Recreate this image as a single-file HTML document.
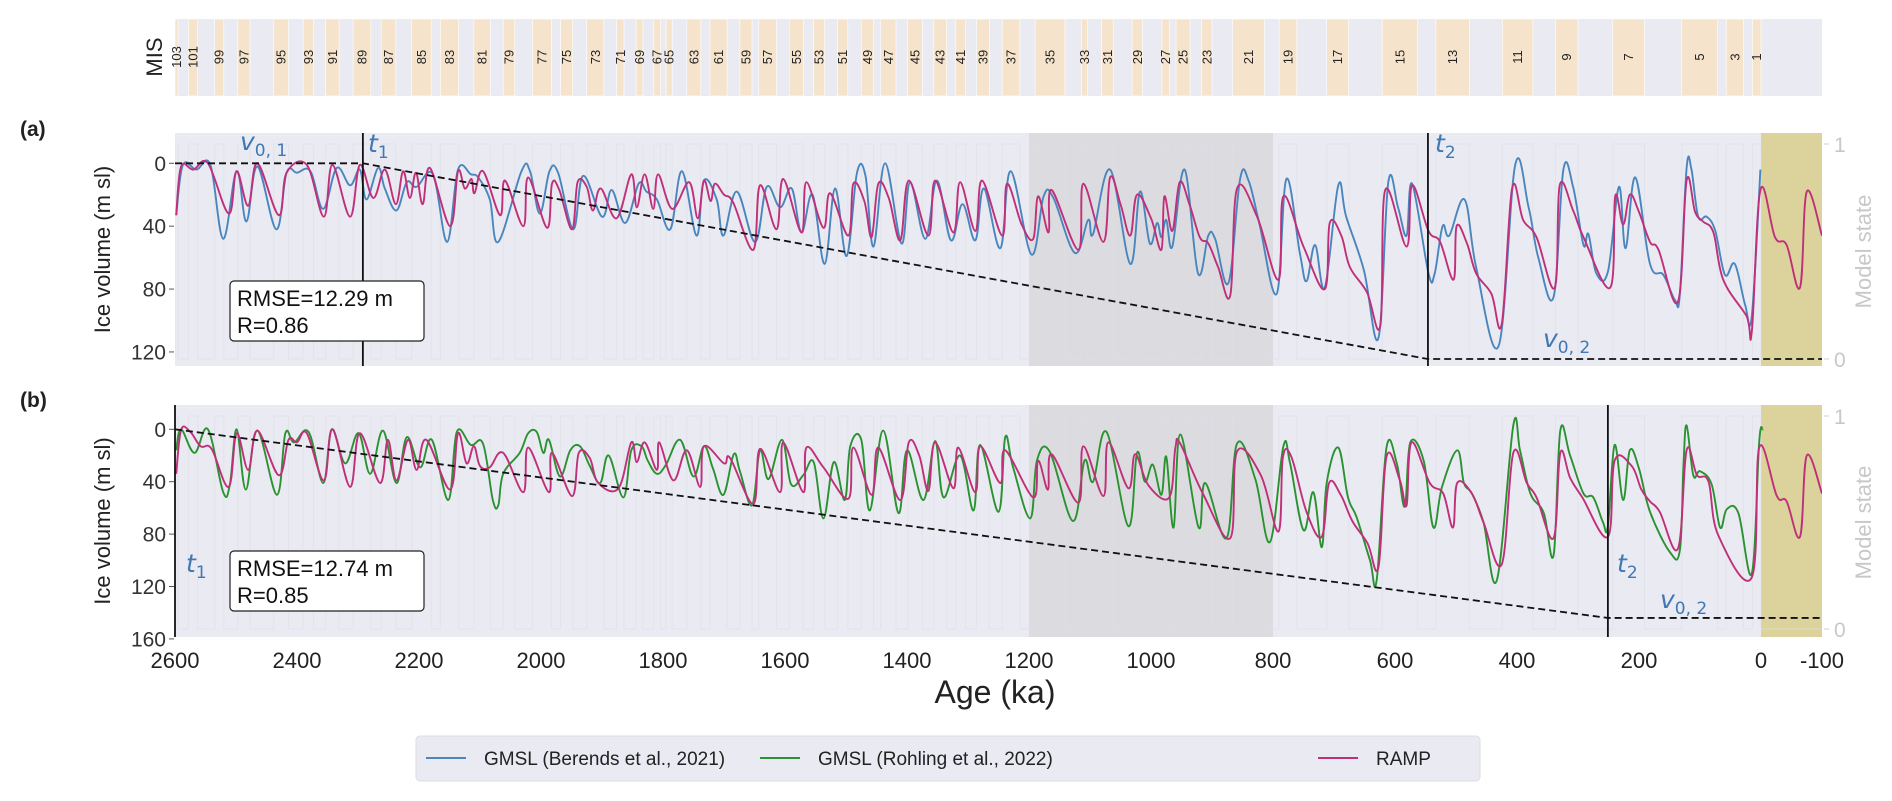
<!DOCTYPE html>
<html><head><meta charset="utf-8">
<style>
html,body{margin:0;padding:0;background:#fff;}
svg{display:block;font-family:"Liberation Sans",sans-serif;}
</style></head>
<body>
<svg id="chart" width="1892" height="801" viewBox="0 0 1892 801" xmlns="http://www.w3.org/2000/svg"></svg>
<script>
// ---------- DATA ----------
const misStages=[1,2,3,4,5,6,7,8,9,10,11,12,13,14,15,16,17,18,19,20,21,22,23,24,25,26,27,28,29,30,31,32,33,34,35,36,37,38,39,40,41,42,43,44,45,46,47,48,49,50,51,52,53,54,55,56,57,58,59,60,61,62,63,64,65,66,67,68,69,70,71,72,73,74,75,76,77,78,79,80,81,82,83,84,85,86,87,88,89,90,91,92,93,94,95,96,97,98,99,100,101,102,103];
const misBounds=[0,14,29,57,71,130,191,243,300,337,374,424,478,533,563,621,676,712,761,790,814,866,900,917,936,959,970,982,1014,1031,1062,1081,1104,1114,1141,1190,1215,1244,1265,1286,1304,1320,1335,1356,1375,1399,1418,1443,1455,1475,1497,1514,1535,1553,1570,1593,1614,1643,1654,1674,1695,1723,1738,1761,1785,1795,1804,1815,1833,1844,1864,1876,1897,1925,1948,1968,1983,2014,2043,2062,2083,2110,2135,2165,2180,2212,2238,2262,2279,2308,2331,2353,2373,2390,2414,2438,2477,2497,2520,2535,2563,2578,2595,2600];

const berendsT=[2598,2587,2565,2542,2521,2499,2483,2465,2434,2417,2400,2378,2357,2335,2313,2297,2286,2267,2256,2237,2220,2204,2177,2154,2136,2115,2103,2084,2070,2032,2018,2002,1986,1972,1947,1931,1900,1884,1862,1840,1827,1810,1788,1769,1745,1733,1712,1701,1679,1649,1630,1608,1589,1573,1555,1535,1518,1499,1482,1468,1455,1436,1409,1395,1370,1351,1328,1309,1288,1274,1247,1230,1196,1176,1160,1125,1103,1095,1067,1034,1018,1002,990,983,975,965,945,923,906,895,873,854,840,822,794,778,756,745,731,715,693,680,651,627,611,595,581,572,545,535,522,511,486,467,430,403,381,365,340,324,308,291,283,270,251,233,222,206,182,160,141,133,122,114,103,89,75,59,43,26,15,1];
const berendsV=[33,1,4,1,48,5,37,2,42,6,6,5,29,3,14,4,23,3,16,30,12,15,7,50,4,7,9,23,50,5,5,32,5,6,42,8,34,17,38,13,18,23,42,5,46,11,23,46,18,50,15,28,16,44,20,64,16,59,6,8,53,0,51,12,48,11,49,26,49,16,54,5,58,21,22,57,36,45,4,64,18,51,38,47,36,53,4,70,46,48,76,10,11,39,83,10,57,75,52,79,14,34,68,111,12,28,46,13,70,70,40,46,23,66,116,1,28,60,85,4,15,52,45,70,69,15,54,9,64,71,87,83,3,4,34,34,43,71,64,90,97,4];

const rampAT=[2598,2590,2570,2546,2512,2499,2480,2465,2430,2417,2384,2356,2342,2313,2297,2275,2256,2238,2226,2215,2205,2194,2182,2149,2136,2125,2114,2109,2095,2067,2059,2029,2021,1990,1982,1970,1949,1940,1925,1915,1902,1876,1852,1843,1830,1816,1808,1785,1757,1743,1733,1722,1715,1700,1685,1652,1641,1614,1603,1573,1565,1537,1526,1496,1488,1470,1458,1447,1430,1411,1397,1365,1354,1324,1313,1288,1277,1244,1236,1212,1193,1185,1168,1163,1119,1111,1078,1067,1050,1034,1023,1000,983,978,965,953,937,920,906,890,870,859,826,791,783,750,715,707,688,674,646,624,616,581,572,545,526,504,499,482,467,442,425,408,390,368,338,330,308,291,247,239,226,215,201,182,168,136,122,108,95,78,62,24,15,1,-23,-42,-64,-75,-100];
const rampAV=[33,2,4,0,32,5,27,0,33,6,1,34,1,34,1,22,4,26,5,22,6,26,3,40,5,16,10,19,5,33,11,40,9,41,13,17,42,12,15,30,16,35,7,28,7,29,7,29,12,35,11,24,13,20,25,55,14,42,10,44,12,41,19,46,13,24,47,13,22,49,11,46,11,44,12,43,11,46,13,39,48,21,44,17,55,13,50,9,26,46,20,35,55,21,43,12,26,47,51,66,84,16,34,74,21,53,80,38,46,66,82,103,17,53,14,43,50,74,40,51,70,83,102,16,36,47,79,14,30,47,79,21,39,20,30,50,55,88,11,31,37,44,74,97,107,17,47,52,79,18,46];

const rohlingT=[2598,2590,2568,2546,2521,2510,2499,2484,2465,2433,2419,2405,2381,2357,2343,2321,2299,2280,2259,2237,2220,2198,2179,2152,2138,2115,2095,2079,2070,2062,2035,2021,2007,1996,1987,1969,1952,1936,1920,1903,1889,1865,1852,1835,1825,1810,1795,1772,1750,1733,1718,1701,1684,1674,1654,1641,1627,1605,1590,1570,1553,1537,1520,1502,1493,1475,1461,1439,1414,1400,1373,1354,1340,1313,1291,1280,1250,1239,1226,1198,1187,1166,1128,1109,1095,1073,1037,1023,1010,997,983,975,963,952,922,911,876,859,829,805,783,772,750,734,720,712,693,677,663,641,630,614,597,584,575,553,537,523,498,487,474,455,433,406,395,378,356,340,329,313,291,275,259,251,240,226,215,200,182,149,133,127,122,111,100,81,67,56,37,15,3,-3];
const rohlingV=[16,0,18,0,48,42,0,46,1,50,3,10,2,41,0,26,3,34,1,41,6,29,8,54,2,12,11,54,58,34,18,3,2,18,8,36,16,13,28,41,20,52,16,13,24,34,27,8,36,13,30,50,19,32,58,16,38,8,42,35,25,68,25,54,13,8,62,1,64,16,54,9,52,20,62,12,63,6,29,68,24,17,70,24,40,2,74,18,40,27,50,21,75,4,75,41,83,11,38,86,13,26,77,48,90,41,14,52,67,100,115,14,26,59,10,24,75,44,16,41,49,71,115,-3,16,49,64,96,1,20,49,52,71,74,12,54,16,30,63,94,92,27,-3,35,32,42,75,61,64,110,10,0];

const rampBT=[2598,2590,2575,2558,2540,2512,2499,2480,2465,2430,2414,2400,2384,2356,2342,2313,2297,2264,2251,2237,2218,2204,2188,2149,2136,2122,2110,2100,2084,2062,2029,2021,1987,1982,1949,1938,1920,1906,1873,1852,1843,1830,1810,1806,1783,1761,1739,1733,1700,1690,1652,1641,1608,1603,1570,1565,1537,1496,1488,1458,1447,1411,1397,1380,1365,1354,1324,1316,1288,1280,1247,1239,1193,1185,1169,1163,1119,1111,1078,1070,1037,1026,1004,970,960,952,915,870,859,820,791,784,770,745,720,708,689,670,645,627,614,592,581,573,543,521,505,498,474,455,425,406,384,368,340,329,313,293,251,240,212,196,182,166,136,122,105,86,70,15,3,-26,-42,-64,-75,-100];
const rampBV=[34,0.5,2,13,15,44,3,31,1,35,8,10,3,39,0,44,3,41,8,39,8,31,8,46,3,26,13,28,29,18,48,14,48,18,51,18,22,41,45,10,25,10,31,10,39,16,44,13,26,22,57,15,48,10,48,14,29,53,14,50,14,54,10,20,47,10,45,14,48,13,41,16,52,24,46,19,56,13,51,10,45,19,43,52,14,11,49,83,17,35,78,22,21,63,82,41,50,70,87,105,21,39,58,10,41,49,75,41,49,71,103,18,41,52,83,18,37,52,82,24,28,46,55,63,91,16,35,40,81,113,14,51,55,82,20,49];

const yTicksA=[0,40,80,120];
const yTicksB=[0,40,80,120,160];
const xTicks=[2600,2400,2200,2000,1800,1600,1400,1200,1000,800,600,400,200,0,-100];

// ---------- SCALES ----------
const X0=175,X1=1822;
const x=t=>1761-0.61*t;
const ya=v=>163.3+1.572*v;
const yb=v=>429.3+1.31*v;
const A={top:133,bot:366,y:ya,s1:144,s0:359};
const B={top:405,bot:637,y:yb,s1:416,s0:629};
const NS="http://www.w3.org/2000/svg";
const svg=document.getElementById('chart');
function el(tag,attrs,parent,text){const e=document.createElementNS(NS,tag);for(const k in attrs)e.setAttribute(k,attrs[k]);if(text!==undefined)e.textContent=text;(parent||svg).appendChild(e);return e;}

const defs=el('defs',{});
[['clipA',A],['clipB',B]].forEach(([id,P])=>{const c=el('clipPath',{id:id},defs);el('rect',{x:X0,y:P.top,width:X1-X0,height:P.bot-P.top},c);});

// ---------- MIS STRIP ----------
const mis=el('g',{});


el('rect',{x:X0,y:19,width:X1-X0,height:77,fill:'#eaeaf2'},mis);
for(let i=0;i<misStages.length;i++){
  const s=misStages[i];const a=misBounds[i],b=misBounds[i+1];
  if(s%2===1){
    const r=el('rect',{x:x(b),y:19,width:x(a)-x(b),height:77,fill:'#f5e3cb',stroke:'#fff','stroke-width':0.6},mis);
    
    
    const cx=(x(a)+x(b))/2;
    const t=el('text',{x:0,y:0,transform:`translate(${cx+4.5},57) rotate(-90)`,'font-size':13,'text-anchor':'middle',fill:'#222'},mis,String(s));
    
    
  }
}
el('text',{x:0,y:0,transform:'translate(162,57) rotate(-90)','font-size':22,'text-anchor':'middle',fill:'#222',},svg,'MIS');

function smoothPath(T,V,yf){
  const p=T.map((t,i)=>[x(t),yf(V[i])]);
  let d='M'+p[0][0].toFixed(1)+','+p[0][1].toFixed(1);
  for(let i=0;i<p.length-1;i++){
    const p0=p[Math.max(0,i-1)],p1=p[i],p2=p[i+1],p3=p[Math.min(p.length-1,i+2)];
    const k=0.18;
    const c1=[p1[0]+(p2[0]-p0[0])*k,p1[1]+(p2[1]-p0[1])*k];
    const c2=[p2[0]-(p3[0]-p1[0])*k,p2[1]-(p3[1]-p1[1])*k];
    d+=`C${c1[0].toFixed(1)},${c1[1].toFixed(1)} ${c2[0].toFixed(1)},${c2[1].toFixed(1)} ${p2[0].toFixed(1)},${p2[1].toFixed(1)}`;
  }
  return d;
}

// ---------- PANELS ----------
function panel(P,name,ticks,blueT,blueV,blueColor,blueName,rT,rV,dash,t1,t2,rmse,rval,lbl,lblY){
  const g=el('g',{});
  
  
  el('rect',{x:X0,y:P.top,width:X1-X0,height:P.bot-P.top,fill:'#eaeaf2'},g);
  const gb=el('rect',{x:x(1200),y:P.top,width:x(800)-x(1200),height:P.bot-P.top,fill:'#dcdce0'},g);
  
  
  const yb2=el('rect',{x:x(0),y:P.top,width:x(-100)-x(0),height:P.bot-P.top,fill:'#dbd39b'},g);
  
  
  let d='M'+x(2600)+','+P.s0;
  for(let i=misStages.length-1;i>=0;i--){
    if(misStages[i]%2===1){const a=x(Math.min(misBounds[i+1],2600)),b=x(misBounds[i]);d+=`L${a},${P.s0}L${a},${P.s1}L${b},${P.s1}L${b},${P.s0}`;}
  }
  d+=`L${x(-100)},${P.s0}`;
  const cp=`url(#clip${name==='panel-a'?'A':'B'})`;
  const ms=el('path',{d:d,fill:'none',stroke:'#dedee4','stroke-width':1,opacity:0.6,'clip-path':cp},g);
  
  
  ticks.forEach(v=>{
    el('line',{x1:X0-6,x2:X0-1,y1:P.y(v),y2:P.y(v),stroke:'#555','stroke-width':1},g);
    const tx=el('text',{x:X0-9,y:P.y(v)+7.5,'font-size':21,'text-anchor':'end',fill:'#333'},g,String(v));
    
    
  });
  [[1,P.s1],[0,P.s0]].forEach(([v,yy])=>{
    el('line',{x1:X1+2,x2:X1+7,y1:yy,y2:yy,stroke:'#ccc','stroke-width':1},g);
    const tx=el('text',{x:X1+12,y:yy+8,'font-size':21,fill:'#c8c8c8'},g,String(v));
    
    
  });
  const ms2=el('text',{x:0,y:0,transform:`translate(1871,${(P.s0+P.s1)/2}) rotate(-90)`,'font-size':22,'text-anchor':'middle',fill:'#c8c8c8'},g,'Model state');
  
  
  const yt=el('text',{x:0,y:0,transform:`translate(110,${(P.top+P.bot)/2}) rotate(-90)`,'font-size':22,'text-anchor':'middle',fill:'#222'},g,'Ice volume (m sl)');
  
  
  const pl=el('text',{x:20,y:lblY,'font-size':21,'font-weight':'bold',fill:'#222'},g,lbl);
  
  
  const path=(T,V,col,nm)=>{
    const p=el('path',{d:smoothPath(T,V,P.y),fill:'none',stroke:col,'stroke-width':1.9,'stroke-linejoin':'round','clip-path':cp},g);
    
    
  };
  path(blueT,blueV,blueColor,blueName);
  path(rT,rV,'#c0307a','ramp-line');
  const dp=el('path',{d:`M${x(2600)},${P.y(0)}L${x(t1)},${P.y(0)}L${x(t2)},${P.y(dash)}L${x(-100)},${P.y(dash)}`,fill:'none',stroke:'#111','stroke-width':1.8,'stroke-dasharray':'7,4','clip-path':cp},g);
  
  
  [t1,t2].forEach((t,i)=>{
    const l=el('line',{x1:x(t),x2:x(t),y1:P.top,y2:P.bot,stroke:'#111','stroke-width':1.8},g);
    
    
  });
  const by=name==='panel-a'?281:551;
  const bx=el('g',{},g);
  
  
  el('rect',{x:230,y:by,width:194,height:60,rx:4,fill:'#fff',stroke:'#222','stroke-width':1.2},bx);
  el('text',{x:237,y:by+25,'font-size':22,fill:'#111'},bx,rmse);
  el('text',{x:237,y:by+52,'font-size':22,fill:'#111'},bx,rval);
  return g;
}
function annot(txt,sub,xx,yy,nm){
  const t=el('text',{x:xx,y:yy,'font-size':25,'font-style':'italic',fill:'#3f78b3','font-family':'DejaVu Sans, sans-serif'},svg);
  
  
  el('tspan',{},t,txt);
  el('tspan',{dy:6,'font-size':17,'font-style':'normal'},t,sub);
}
panel(A,'panel-a',yTicksA,berendsT,berendsV,'#4a86bd','berends-line',rampAT,rampAV,124.5,2292,546,'RMSE=12.29 m','R=0.86','(a)',136);
panel(B,'panel-b',yTicksB,rohlingT,rohlingV,'#2a9231','rohling-line',rampBT,rampBV,144,2600,251,'RMSE=12.74 m','R=0.85','(b)',407);
annot('v','0, 1',240,150,'v01-label');
annot('t','1',368,152,'t1-label-a');
annot('t','2',1435,152,'t2-label-a');
annot('v','0, 2',1543,347,'v02-label-a');
annot('t','1',186,572,'t1-label-b');
annot('t','2',1617,572,'t2-label-b');
annot('v','0, 2',1660,608,'v02-label-b');

xTicks.forEach(t=>{
  const tx=el('text',{x:x(t),y:668,'font-size':22,'text-anchor':'middle',fill:'#222'},svg,String(t));
  
  
});
el('text',{x:995,y:703,'font-size':32,'text-anchor':'middle',fill:'#222',},svg,'Age (ka)');

const lg=el('g',{});


el('rect',{x:416,y:736,width:1064,height:45,rx:4,fill:'#eaeaf2',stroke:'#dcdce2'},lg);
[['#4a86bd','GMSL (Berends et al., 2021)',426,'legend-berends'],['#2a9231','GMSL (Rohling et al., 2022)',760,'legend-rohling'],['#c0307a','RAMP',1318,'legend-ramp']].forEach(([c,l,lx,nm])=>{
  const e=el('g',{},lg);
  
  
  el('line',{x1:lx,x2:lx+40,y1:758,y2:758,stroke:c,'stroke-width':2},e);
  el('text',{x:lx+58,y:765,'font-size':19,fill:'#222'},e,l);
});
</script>
</body></html>
